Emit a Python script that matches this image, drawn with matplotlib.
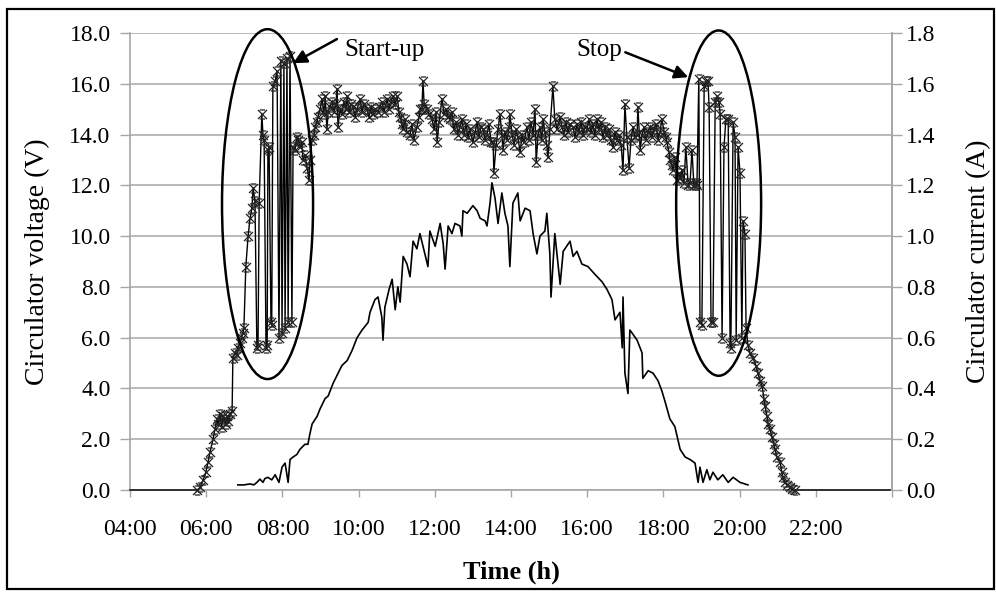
import matplotlib
matplotlib.use("Agg")
import matplotlib.pyplot as plt
from matplotlib.path import Path
from matplotlib.patches import Ellipse, Rectangle

# Circulator voltage (V) vs time (h)
volt_t = [4.00, 5.76, 5.84, 5.92, 5.99, 6.05, 6.10, 6.18, 6.23, 6.28, 6.31, 6.36, 6.41, 6.44,
          6.47, 6.51, 6.55, 6.58, 6.62, 6.68, 6.70, 6.76, 6.80, 6.83, 6.89, 6.93, 6.97, 6.99,
          7.04, 7.10, 7.15, 7.20, 7.23, 7.28, 7.33, 7.36, 7.39, 7.46, 7.49, 7.52, 7.57, 7.60,
          7.62, 7.65, 7.70, 7.72, 7.75, 7.81, 7.86, 7.91, 7.96, 7.99, 8.04, 8.07, 8.12, 8.15,
          8.20, 8.25, 8.28, 8.33,
          8.38, 8.41, 8.46, 8.51, 8.54, 8.59, 8.65, 8.70, 8.72, 8.78, 8.83, 8.86, 8.91, 8.93,
          8.99, 9.04, 9.09, 9.12, 9.17, 9.20, 9.25, 9.30, 9.35, 9.41, 9.43, 9.46, 9.51, 9.56,
          9.62, 9.67, 9.70, 9.75, 9.80, 9.85, 9.91, 9.96, 10.04, 10.09, 10.14, 10.22, 10.27,
          10.33, 10.38, 10.43, 10.51, 10.56, 10.61, 10.67, 10.75, 10.80, 10.85, 10.90, 10.96,
          11.01, 11.06, 11.09, 11.14, 11.17, 11.22, 11.27, 11.35, 11.40, 11.45, 11.53, 11.59,
          11.61, 11.66, 11.69, 11.72, 11.80, 11.85, 11.93, 11.98, 12.03, 12.06, 12.11, 12.19,
          12.24, 12.29, 12.35,
          12.40, 12.45, 12.50, 12.56, 12.61, 12.66, 12.71, 12.77, 12.82, 12.87, 12.92, 13.00,
          13.06, 13.11, 13.16, 13.21, 13.27, 13.32, 13.37, 13.42, 13.48, 13.53, 13.55, 13.61,
          13.66, 13.71, 13.76, 13.79, 13.84, 13.90, 13.95, 13.97, 14.03, 14.08, 14.13, 14.18,
          14.24, 14.29, 14.34, 14.42, 14.47, 14.52, 14.58, 14.63, 14.66, 14.71, 14.76, 14.81,
          14.84, 14.89, 14.94, 14.97, 15.02, 15.10, 15.15, 15.21, 15.29, 15.34, 15.39, 15.44,
          15.50, 15.55, 15.63, 15.68, 15.73, 15.78, 15.84, 15.89, 15.94, 15.99, 16.05, 16.10,
          16.15, 16.20, 16.26, 16.31, 16.36, 16.41, 16.47, 16.52, 16.57, 16.62, 16.68, 16.73,
          16.78, 16.83, 16.89, 16.94, 16.99, 17.04, 17.10, 17.15, 17.20, 17.25, 17.31, 17.33,
          17.39, 17.44, 17.49, 17.54, 17.60, 17.65, 17.70, 17.75, 17.81, 17.86, 17.91, 17.96,
          18.02, 18.07, 18.09, 18.15, 18.17, 18.23, 18.25, 18.30, 18.36, 18.41, 18.44, 18.49,
          18.54, 18.59, 18.65, 18.70, 18.75, 18.80, 18.86, 18.88,
          18.93, 18.96, 19.01, 19.07, 19.12, 19.17, 19.20, 19.25, 19.30, 19.36, 19.41, 19.46,
          19.49, 19.54, 19.59, 19.64, 19.70, 19.75, 19.77, 19.83, 19.88, 19.91, 19.96, 20.01,
          20.06, 20.09, 20.14, 20.17,
          20.22, 20.27, 20.35, 20.43, 20.48, 20.54, 20.59, 20.64, 20.67, 20.72, 20.75, 20.80,
          20.85, 20.90, 20.93, 20.98, 21.06, 21.11, 21.14, 21.19, 21.24, 21.32, 21.37, 21.45,
          23.95]
volt_v = [0.0, 0.0, 0.1, 0.4, 0.7, 1.1, 1.5, 2.0, 2.4, 2.8, 2.6, 3.0, 2.5, 2.9,
          2.8, 2.6, 2.9, 2.7, 3.0, 3.1, 5.2, 5.4, 5.3, 5.6, 5.8, 6.0, 6.2, 6.4,
          8.8, 10.0, 10.7, 11.1, 11.9, 11.4, 5.6, 5.7, 11.3, 14.8, 14.0, 13.8, 5.6, 5.7,
          13.4, 13.5, 6.6, 6.5, 15.9, 16.1, 16.5, 6.0, 16.9, 6.2, 16.8, 6.4, 17.0, 6.6,
          17.1, 6.6, 13.5, 13.4,
          13.9, 13.8, 13.5, 13.7, 13.0, 13.2, 12.7, 12.2, 13.0, 13.8, 14.0, 14.3, 14.5, 14.7,
          15.0, 15.4, 14.8, 15.5, 14.2, 14.9, 15.1, 15.3, 14.9, 15.2, 15.8, 14.3, 15.0, 14.8,
          15.3, 15.0, 15.5, 14.9, 15.2, 15.1, 14.7, 15.0, 15.4, 14.9, 15.2, 15.0, 14.7,
          15.1, 14.8, 15.0, 14.9, 15.1, 15.3, 14.9, 15.4, 15.0, 15.3, 15.5, 15.2,
          15.5, 14.9, 14.7, 14.4, 14.2, 14.6, 14.1, 14.0, 14.4, 13.8, 14.3, 14.7,
          15.0, 15.0, 16.1, 15.2, 15.0, 14.8, 14.6, 14.2, 14.9, 13.7, 14.5, 15.4,
          14.8, 15.0, 14.7,
          14.6, 14.9, 14.2, 14.5, 14.0, 14.3, 14.6, 14.0, 14.4, 13.9, 14.2, 13.7,
          14.1, 14.5, 13.9, 14.3, 14.2, 13.8, 14.0, 14.4, 13.7, 13.7, 12.5, 13.6,
          14.2, 14.8, 14.0, 13.4, 14.1, 13.8, 14.3, 14.8, 14.0, 13.6, 14.2, 13.9,
          13.3, 14.0, 13.7, 14.3, 13.8, 14.5, 14.0, 15.0, 12.9, 14.0, 14.3, 13.8,
          14.6, 14.1, 13.6, 13.1, 14.2, 15.9, 14.6, 14.2, 14.7, 14.3, 14.0, 14.5,
          14.1, 14.4, 14.3, 13.9, 14.4, 14.1, 14.5, 14.0, 14.3, 14.2, 14.6, 14.1,
          14.4, 14.0, 14.6, 14.2, 14.5, 13.9, 14.3, 14.0, 14.2, 13.8, 13.5, 14.1,
          13.8, 14.0, 13.6, 12.6, 15.2, 13.9, 12.7, 13.8, 14.3, 13.9, 14.0, 15.1,
          13.4, 14.0, 14.3, 13.8, 14.1, 14.3, 13.9, 14.2, 14.4, 13.8, 14.1, 14.6,
          14.1, 13.9, 13.7, 13.3, 13.0, 12.8, 12.6, 13.1, 12.2, 12.5, 12.3, 12.6,
          12.1, 13.5, 12.0, 12.1, 13.4, 12.0, 12.1, 12.0,
          16.2, 6.6, 6.5, 15.9, 16.1, 16.1, 15.1, 6.6, 6.6, 15.3, 15.5, 15.3,
          14.8, 6.0, 13.5, 14.6, 14.6, 5.8, 5.6, 14.5, 13.9, 5.9, 13.5, 12.5,
          6.0, 10.6, 10.1, 6.4,
          5.7, 5.4, 5.2, 4.9, 4.6, 4.3, 4.1, 3.6, 3.3, 2.9, 2.6, 2.4,
          2.1, 1.8, 1.6, 1.3, 1.1, 0.7, 0.5, 0.3, 0.2, 0.1, 0.05, 0.0,
          0.0]

# Circulator current (A) vs time (h)
curr_t = [6.83, 6.99, 7.15, 7.25, 7.33, 7.41, 7.49, 7.54, 7.62, 7.72, 7.81, 7.91, 7.99,
          8.07, 8.15, 8.20, 8.28, 8.38, 8.46, 8.59, 8.67, 8.72, 8.78, 8.91, 8.99, 9.12,
          9.20, 9.33, 9.46, 9.56, 9.70, 9.83, 9.96, 10.09, 10.25, 10.30, 10.43, 10.51,
          10.61, 10.64, 10.69, 10.80, 10.88, 10.96, 11.03, 11.09, 11.17, 11.27, 11.35,
          11.43, 11.53, 11.61, 11.74, 11.82, 11.87, 12.01, 12.14, 12.22, 12.27, 12.35,
          12.45, 12.53, 12.66, 12.71, 12.74, 12.85, 13.00, 13.11, 13.19, 13.32, 13.37,
          13.45, 13.50, 13.58, 13.66, 13.76, 13.84, 13.92, 13.97, 14.05, 14.18, 14.24,
          14.37, 14.50, 14.58, 14.68, 14.76, 14.89, 14.94, 15.02, 15.05, 15.15, 15.29,
          15.37, 15.55, 15.63, 15.73, 15.86, 16.02, 16.20, 16.39, 16.52, 16.65, 16.73,
          16.86, 16.92, 16.94, 16.99, 17.07, 17.12, 17.17, 17.31, 17.44, 17.46, 17.60,
          17.73, 17.86, 17.96, 18.04, 18.17, 18.30, 18.44, 18.57, 18.70, 18.83, 18.91,
          18.96, 19.04, 19.14, 19.22, 19.30, 19.43, 19.56, 19.70, 19.83, 20.01, 20.22]
curr_a = [0.02, 0.02, 0.024, 0.02, 0.03, 0.043, 0.03, 0.045, 0.05, 0.04, 0.06, 0.03, 0.09,
          0.106, 0.03, 0.12, 0.13, 0.14, 0.16, 0.18, 0.18, 0.22, 0.26, 0.29, 0.32, 0.36,
          0.37, 0.42, 0.46, 0.49, 0.51, 0.55, 0.60, 0.63, 0.66, 0.70, 0.75, 0.76,
          0.68, 0.59, 0.72, 0.79, 0.83, 0.71, 0.80, 0.74, 0.92, 0.89, 0.84,
          0.98, 0.95, 1.01, 0.93, 0.88, 1.02, 0.96, 1.05, 0.97, 0.87, 1.04,
          1.01, 1.05, 1.04, 1.00, 1.10, 1.09, 1.12, 1.10, 1.07, 1.06, 1.04,
          1.13, 1.21, 1.15, 1.05, 1.17, 1.09, 1.04, 0.88, 1.13, 1.17, 1.06,
          1.11, 1.10, 1.01, 0.93, 1.00, 1.02, 1.09, 0.93, 0.76, 1.01, 0.81,
          0.94, 0.98, 0.92, 0.94, 0.89, 0.88, 0.85, 0.82, 0.79, 0.75, 0.67,
          0.70, 0.56, 0.76, 0.46, 0.38, 0.63, 0.62, 0.59, 0.54, 0.44, 0.47,
          0.46, 0.43, 0.39, 0.35, 0.28, 0.25, 0.16, 0.13, 0.12, 0.106, 0.03,
          0.09, 0.03, 0.08, 0.04, 0.07, 0.04, 0.06, 0.03, 0.05, 0.03, 0.02]

hour_ticks = [4, 6, 8, 10, 12, 14, 16, 18, 20, 22, 24]
hour_labels = ["04:00", "06:00", "08:00", "10:00", "12:00", "14:00",
               "16:00", "18:00", "20:00", "22:00", ""]

plt.rcParams["font.family"] = ["Liberation Serif", "DejaVu Serif"]
grey = "#a6a6a6"

# x marker with short bars top and bottom, like the Excel one
star = Path([(-1, -1), (1, 1), (-1, 1), (1, -1), (-0.6, 1), (0.6, 1), (-0.6, -1), (0.6, -1)],
            [Path.MOVETO, Path.LINETO] * 4)

fig = plt.figure(figsize=(9.96, 5.92), dpi=100)
ax = fig.add_axes([130 / 996, 1 - 490 / 592, 762 / 996, 457 / 592])
ax2 = ax.twinx()

# voltage goes on the twin axes (with the left scale) so its zero line sits on top
ax2.plot(volt_t, [v / 10 for v in volt_v], color="black", lw=1.0, marker=star, ms=6.5, mew=0.9,
         mec="#222222", mfc="none", markevery=list(range(1, len(volt_t) - 1)),
         zorder=3, clip_on=False)
ax2.plot(curr_t, curr_a, color="black", lw=1.2, zorder=3)

ax.set_xlim(4, 24)
ax.set_ylim(0, 18)
ax2.set_ylim(0, 1.8)
ax.set_xticks(hour_ticks)
ax.set_xticklabels(hour_labels)
ax.set_yticks([i * 2 for i in range(10)])
ax.set_yticklabels([f"{i * 2:.1f}" for i in range(10)])
ax2.set_yticks([i * 0.2 for i in range(10)])
ax2.set_yticklabels([f"{i * 0.2:.1f}" for i in range(10)])

ax.yaxis.grid(True, color="#b4b4b4", lw=1.3)
ax.set_axisbelow(True)
for a in (ax, ax2):
    a.spines["top"].set_visible(False)
    for s in ("left", "right", "bottom"):
        a.spines[s].set_color(grey)
        a.spines[s].set_linewidth(1.2)
ax2.spines["bottom"].set_visible(False)
ax2.spines["left"].set_visible(False)

ax.tick_params(axis="y", length=7, width=1, color=grey, pad=7, labelsize=17)
ax.tick_params(axis="x", length=5, width=1, color=grey, pad=16, labelsize=17)
ax2.tick_params(axis="y", length=7, width=1, color=grey, pad=3, labelsize=17)

ax.set_ylabel("Circulator voltage (V)", fontsize=20, labelpad=14)
ax2.set_ylabel("Circulator current (A)", fontsize=20, labelpad=22)
ax.set_xlabel("Time (h)", fontsize=19, fontweight="bold", labelpad=15)

# ellipses around the start-up and stop regions
for cx, cy, w, h in [(7.61, 11.26, 2.39, 13.78), (19.45, 11.3, 2.23, 13.6)]:
    ax2.add_patch(Ellipse((cx, cy), w, h, transform=ax.transData, fill=False,
                          ec="black", lw=1.8, zorder=5, clip_on=False))

arrow = dict(arrowstyle="-|>", color="black", lw=1.8, mutation_scale=20, shrinkA=0, shrinkB=0)
ax2.annotate("", xy=(8.28, 16.81), xytext=(9.43, 17.76), xycoords=ax.transData,
             textcoords=ax.transData, arrowprops=arrow, zorder=6)
ax2.text(9.62, 17.32, "Start-up", transform=ax.transData, fontsize=18, va="center", ha="left")
ax2.annotate("", xy=(18.65, 16.26), xytext=(17.0, 17.24), xycoords=ax.transData,
             textcoords=ax.transData, arrowprops=arrow, zorder=6)
ax2.text(15.72, 17.32, "Stop", transform=ax.transData, fontsize=18, va="center", ha="left")

# outer frame around the whole chart
fig.patches.append(Rectangle((7 / 996, 3 / 592), 987 / 996, 580 / 592, transform=fig.transFigure,
                             fill=False, ec="black", lw=1.6))

fig.savefig("out.png", dpi=100)
